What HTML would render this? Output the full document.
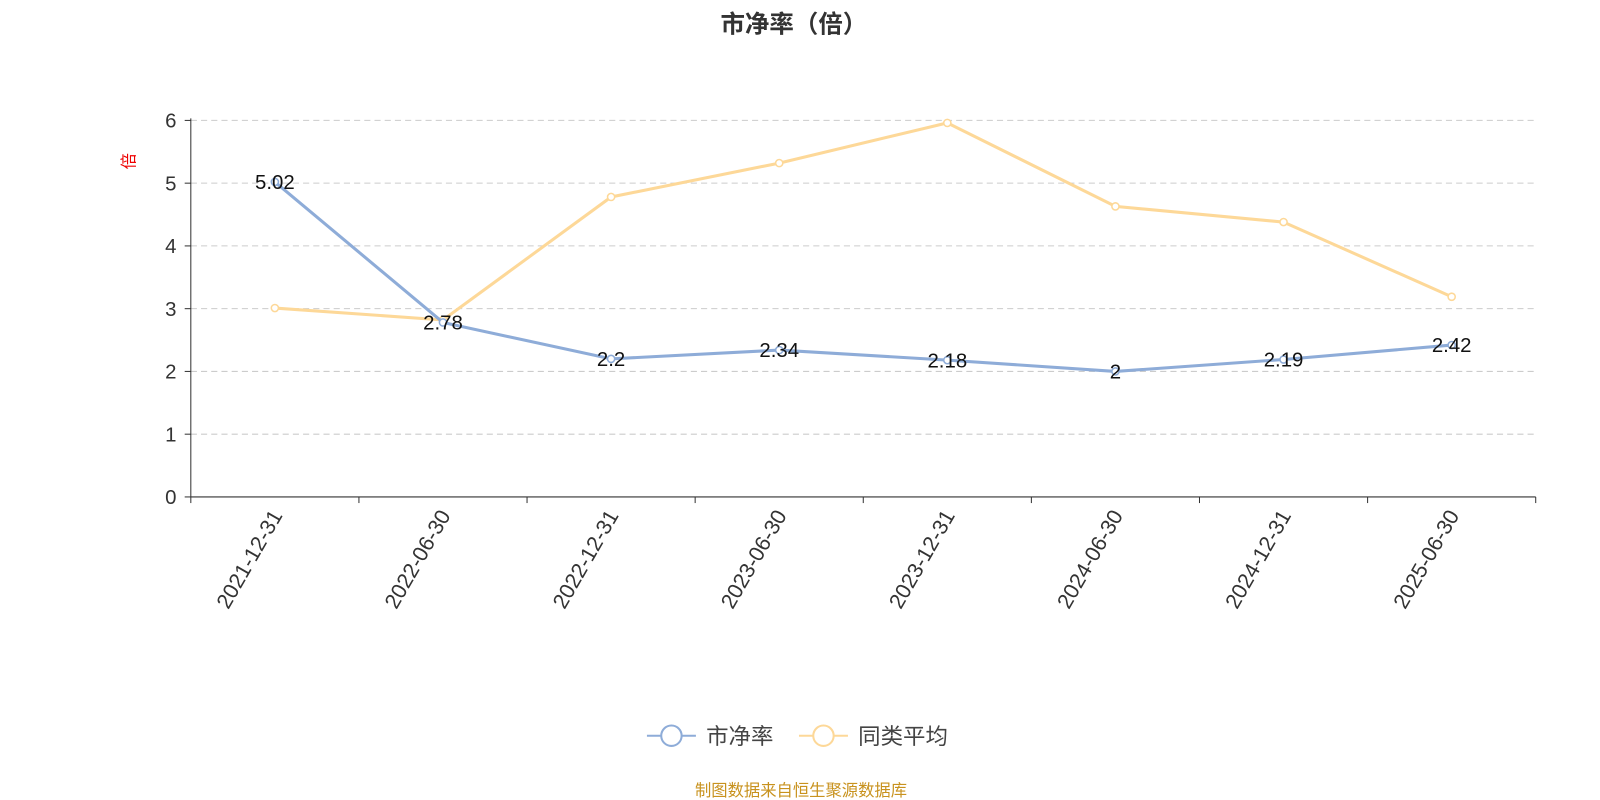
<!DOCTYPE html>
<html><head><meta charset="utf-8"><style>
body{margin:0;background:#fff;font-family:"Liberation Sans","Noto Sans CJK SC",sans-serif;}
</style></head><body>
<svg width="1600" height="800" viewBox="0 0 1568 784" xmlns="http://www.w3.org/2000/svg" style="font-family:'Liberation Sans','Noto Sans CJK SC',sans-serif;display:block">
<text x="778" y="32" text-anchor="middle" font-size="24" font-weight="bold" fill="#333">市净率（倍）</text>
<text transform="translate(132,158) rotate(-90)" text-anchor="middle" font-size="16" fill="#e00">倍</text>
<g id="grid"></g>
<g id="axes"></g>
<g id="series"></g>
<g>
<g><line x1="634" y1="721" x2="682" y2="721" stroke="#8eacd8" stroke-width="2"/><circle cx="658" cy="721" r="10" fill="#fff" stroke="#8eacd8" stroke-width="2"/><text x="692" y="729" font-size="22" fill="#444">市净率</text></g>
<g><line x1="783" y1="721" x2="831" y2="721" stroke="#fdd898" stroke-width="2"/><circle cx="807" cy="721" r="10" fill="#fff" stroke="#fdd898" stroke-width="2"/><text x="841" y="729" font-size="22" fill="#444">同类平均</text></g>
</g>
<text x="785" y="780" text-anchor="middle" font-size="16" fill="#c8921e">制图数据来自恒生聚源数据库</text>
</svg>
<script>
const categories=["2021-12-31","2022-06-30","2022-12-31","2023-06-30","2023-12-31","2024-06-30","2024-12-31","2025-06-30"];
const pbValues=[5.02,2.78,2.2,2.34,2.18,2,2.19,2.42];
const avgValues=[3.01,2.82,4.78,5.32,5.96,4.63,4.38,3.19];
const yTicks=[0,1,2,3,4,5,6];
const NS="http://www.w3.org/2000/svg";
const X0=187,X1=1505,Y0=487,Y6=118;
const bw=(X1-X0)/categories.length;
const xc=i=>X0+bw*(i+0.5);
const y=v=>Y0-(Y0-Y6)*v/6;
function mk(t,a,p){const e=document.createElementNS(NS,t);for(const k in a)e.setAttribute(k,a[k]);p.appendChild(e);return e;}
const grid=document.getElementById('grid'),axes=document.getElementById('axes'),ser=document.getElementById('series');
yTicks.forEach(t=>{
 if(t>0){const l=mk('line',{x1:X0,x2:X1,y1:y(t),y2:y(t),stroke:'#ccc','stroke-dasharray':'6,4'},grid);
 
 }
 const tk=mk('line',{x1:X0-6,x2:X0,y1:y(t),y2:y(t),stroke:'#333'},axes);
 
 
 const tx=mk('text',{x:X0-14,y:y(t)+7,'text-anchor':'end','font-size':20,fill:'#333'},axes);tx.textContent=t;
 
 
});
const ya=mk('line',{x1:X0,x2:X0,y1:Y6-2,y2:Y0,stroke:'#333'},axes);


const xa=mk('line',{x1:X0,x2:X1,y1:Y0,y2:Y0,stroke:'#333'},axes);


for(let i=0;i<=categories.length;i++){const t=mk('line',{x1:X0+bw*i,x2:X0+bw*i,y1:Y0,y2:Y0+6,stroke:'#333'},axes);
 
 }
categories.forEach((c,i)=>{const t=mk('text',{transform:`translate(${xc(i)+8},${Y0+18}) rotate(-60)`,'text-anchor':'end','font-size':21,fill:'#333'},axes);t.textContent=c;
 
 });
function draw(vals,color,name,labels){
 const p=mk('polyline',{points:vals.map((v,i)=>xc(i)+','+y(v)).join(' '),fill:'none',stroke:color,'stroke-width':3},ser);
 
 
 vals.forEach((v,i)=>{const c=mk('circle',{cx:xc(i),cy:y(v),r:3.5,fill:'#fff',stroke:color,'stroke-width':1.5},ser);
  
  
  if(labels){const t=mk('text',{x:xc(i),y:y(v)+7,'text-anchor':'middle','font-size':20,fill:'#111'},ser);t.textContent=v;
  
  }
 });
}
draw(avgValues,'#fdd898','avg',false);
draw(pbValues,'#8eacd8','pb',true);
</script>
</body></html>
